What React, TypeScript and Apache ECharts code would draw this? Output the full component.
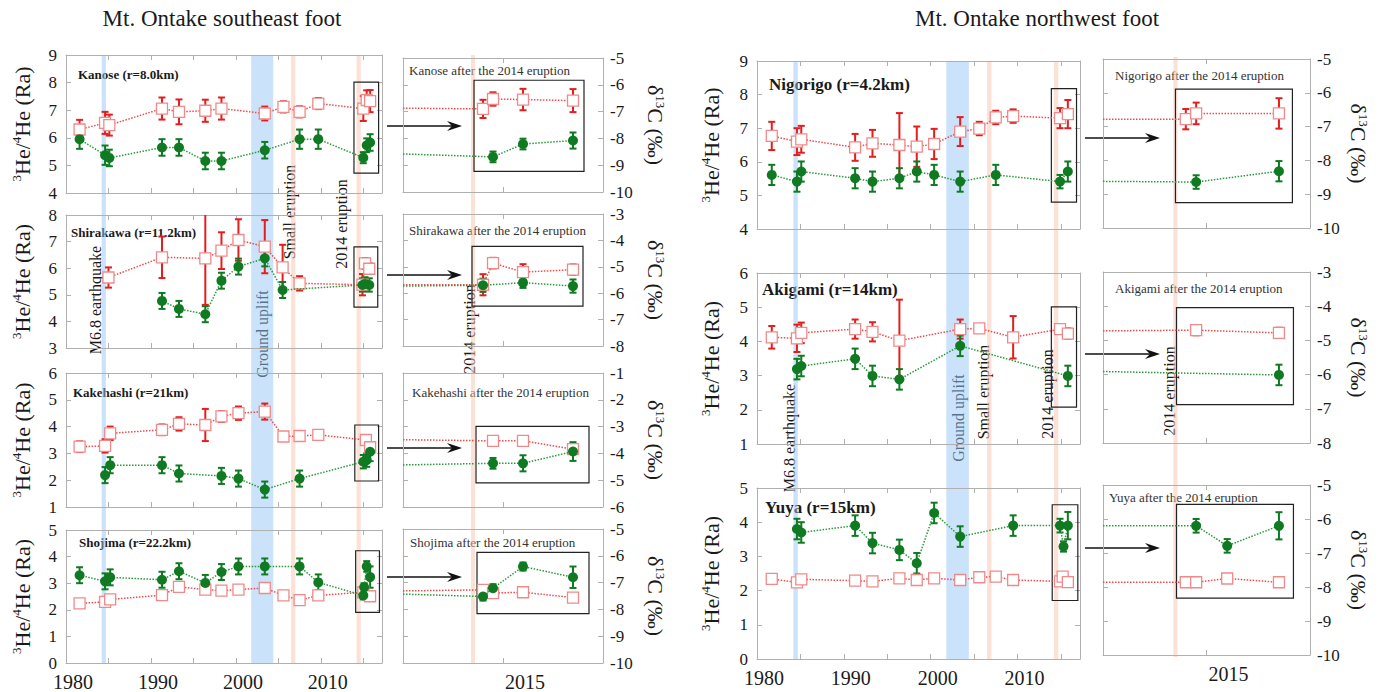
import React, { useEffect, useRef } from "react";
import * as echarts from "echarts";

const FONT = "Liberation Serif";
const FRAME = "#b0b0b0";
const TXT = "#1a1a1a";
const RED_BAR = "#e41e1e";
const RED_SQ = "#f08a8a";
const RED_LINE = "#f04a4a";
const GREEN = "#0f7a22";
const GREEN_LINE = "#2a9a3a";
const BLUE_BAND = "rgba(150,200,245,0.5)";
const RED_BAND = "rgba(250,195,175,0.5)";

// ---------------- events ----------------
const eventStart = [1984.2, 2001.8, 2006.5, 2014.2];
const eventEnd = [1984.7, 2004.4, 2007.0, 2014.7];
const eventKind = [0, 0, 1, 1];
const eventLabels = ["M6.8 earthquake", "Ground uplift", "Small eruption", "2014 eruption"];
const insetEruption = [2014.68, 2014.72];

// ---------------- Kanose ----------------
const kanoseHeYears = [1981.6, 1984.6, 1985.1, 1991.3, 1993.3, 1996.4, 1998.3, 2003.4, 2005.6, 2007.5, 2009.7, 2015.0, 2015.4, 2015.8];
const kanoseHe = [6.3, 6.54, 6.46, 7.06, 6.94, 6.98, 7.06, 6.88, 7.12, 6.94, 7.24, 7.06, 7.37, 7.33];
const kanoseHeErr = [0.35, 0.4, 0.38, 0.4, 0.45, 0.4, 0.4, 0.25, 0.2, 0.2, 0.2, 0.45, 0.35, 0.4];
const kanoseCYears = [1981.6, 1984.6, 1985.1, 1991.3, 1993.3, 1996.4, 1998.3, 2003.4, 2007.5, 2009.7, 2015.0, 2015.4, 2015.8];
const kanoseC = [-8.05, -8.63, -8.73, -8.35, -8.35, -8.84, -8.84, -8.45, -8.05, -8.05, -8.72, -8.27, -8.17];
const kanoseCErr = [0.35, 0.35, 0.3, 0.3, 0.3, 0.3, 0.3, 0.3, 0.35, 0.35, 0.2, 0.25, 0.3];
const kanosePostHeYears = [2014.8, 2014.9, 2015.2, 2015.7];
const kanosePostHe = [7.1, 7.47, 7.45, 7.41];
const kanosePostHeErr = [0.34, 0.25, 0.4, 0.43];
const kanosePostHeStart = 7.13;
const kanosePostCYears = [2014.9, 2015.2, 2015.7];
const kanosePostC = [-8.69, -8.21, -8.08];
const kanosePostCErr = [0.2, 0.2, 0.3];
const kanosePostCStart = -8.58;
const kanoseBox = [2013.9, 2016.8, 4.72, 8.02];
const kanosePostBox = [2014.71, 2015.81, -9.23, -5.83];

// ---------------- Shirakawa ----------------
const shirakawaHeYears = [1985.0, 1991.3, 1996.4, 1998.3, 2000.3, 2003.4, 2005.5, 2007.5, 2014.9, 2015.2, 2015.7];
const shirakawaHe = [5.65, 6.41, 6.37, 6.66, 7.06, 6.81, 6.03, 5.43, 5.38, 6.18, 5.98];
const shirakawaHeErr = [0.38, 0.78, 1.75, 0.69, 0.78, 1.0, 0.85, 0.27, 0.4, 0.2, 0.2];
const shirakawaCYears = [1991.3, 1993.3, 1996.4, 1998.3, 2000.3, 2003.4, 2005.5, 2014.9, 2015.2, 2015.7];
const shirakawaC = [-6.23, -6.53, -6.73, -5.47, -4.94, -4.63, -5.82, -5.63, -5.59, -5.63];
const shirakawaCErr = [0.3, 0.3, 0.3, 0.3, 0.3, 0.3, 0.3, 0.25, 0.25, 0.25];
const shirakawaPostHeYears = [2014.8, 2014.9, 2015.2, 2015.7];
const shirakawaPostHe = [5.32, 6.14, 5.8, 5.89];
const shirakawaPostHeErr = [0.4, 0.2, 0.3, 0.2];
const shirakawaPostHeStart = 5.32;
const shirakawaPostCYears = [2014.8, 2015.2, 2015.7];
const shirakawaPostC = [-5.7, -5.6, -5.73];
const shirakawaPostCErr = [0.25, 0.2, 0.25];
const shirakawaPostCStart = -5.73;
const shirakawaBox = [2013.9, 2016.7, 4.54, 6.8];
const shirakawaPostBox = [2014.69, 2015.8, -6.49, -4.23];

// ---------------- Kakehashi ----------------
const kakehashiHeYears = [1981.6, 1984.6, 1985.2, 1991.3, 1993.3, 1996.4, 1998.3, 2000.3, 2003.4, 2005.6, 2007.5, 2009.7, 2015.3, 2015.8];
const kakehashiHe = [3.25, 3.28, 3.75, 3.88, 4.1, 4.06, 4.38, 4.5, 4.56, 3.63, 3.65, 3.69, 3.5, 3.23];
const kakehashiHeErr = [0.2, 0.25, 0.25, 0.2, 0.25, 0.6, 0.2, 0.25, 0.3, 0, 0, 0, 0, 0.05];
const kakehashiCYears = [1984.6, 1985.2, 1991.3, 1993.3, 1998.3, 2000.3, 2003.4, 2007.5, 2015.0, 2015.4, 2015.8];
const kakehashiC = [-4.81, -4.44, -4.44, -4.75, -4.84, -4.94, -5.35, -4.94, -4.31, -4.25, -3.94];
const kakehashiCErr = [0.3, 0.3, 0.3, 0.3, 0.3, 0.3, 0.3, 0.3, 0.25, 0.25, 0.35];
const kakehashiPostHeYears = [2014.9, 2015.2, 2015.7];
const kakehashiPostHe = [3.47, 3.47, 3.16];
const kakehashiPostHeErr = [0, 0, 0.1];
const kakehashiPostHeStart = 3.51;
const kakehashiPostCYears = [2014.9, 2015.2, 2015.7];
const kakehashiPostC = [-4.37, -4.37, -3.93];
const kakehashiPostCErr = [0.2, 0.3, 0.35];
const kakehashiPostCStart = -4.43;
const kakehashiBox = [2014.0, 2016.8, 1.97, 4.06];
const kakehashiPostBox = [2014.73, 2015.86, -5.1, -2.99];

// ---------------- Shojima ----------------
const shojimaHeYears = [1981.6, 1984.6, 1985.2, 1991.3, 1993.3, 1996.4, 1998.3, 2000.3, 2003.4, 2005.6, 2007.5, 2009.7, 2015.0, 2015.8];
const shojimaHe = [2.24, 2.3, 2.39, 2.55, 2.86, 2.76, 2.72, 2.76, 2.82, 2.54, 2.36, 2.54, 2.66, 2.51];
const shojimaHeErr = [0.08, 0.08, 0.08, 0.08, 0.15, 0.08, 0.1, 0.08, 0.1, 0, 0, 0, 0, 0.08];
const shojimaCYears = [1981.6, 1984.6, 1985.2, 1991.3, 1993.3, 1996.4, 1998.3, 2000.3, 2003.4, 2007.5, 2009.7, 2015.0, 2015.1, 2015.4, 2015.8];
const shojimaC = [-6.7, -6.93, -6.78, -6.87, -6.55, -6.99, -6.58, -6.37, -6.37, -6.37, -6.97, -7.46, -7.15, -6.37, -6.77];
const shojimaCErr = [0.3, 0.3, 0.3, 0.3, 0.3, 0.3, 0.3, 0.3, 0.3, 0.3, 0.3, 0.15, 0.15, 0.2, 0.4];
const shojimaPostHeYears = [2014.8, 2014.9, 2015.2, 2015.7];
const shojimaPostHe = [2.73, 2.61, 2.64, 2.44];
const shojimaPostHeErr = [0, 0, 0.1, 0];
const shojimaPostHeStart = 2.69;
const shojimaPostCYears = [2014.8, 2014.9, 2015.2, 2015.7];
const shojimaPostC = [-7.52, -7.21, -6.4, -6.8];
const shojimaPostCErr = [0.15, 0.15, 0.15, 0.4];
const shojimaPostCStart = -7.43;
const shojimaBox = [2014.1, 2016.9, 1.9, 4.22];
const shojimaPostBox = [2014.74, 2015.86, -8.16, -5.87];

// ---------------- Nigorigo ----------------
const nigorigoHeYears = [1981.7, 1984.6, 1985.1, 1991.3, 1993.3, 1996.4, 1998.4, 2000.4, 2003.4, 2005.6, 2007.5, 2009.5, 2014.9, 2015.8];
const nigorigoHe = [6.77, 6.6, 6.67, 6.43, 6.55, 6.5, 6.45, 6.53, 6.9, 6.99, 7.32, 7.36, 7.3, 7.42];
const nigorigoHeErr = [0.42, 0.4, 0.4, 0.4, 0.4, 0.95, 0.6, 0.45, 0.43, 0.2, 0.2, 0.2, 0.3, 0.42];
const nigorigoCYears = [1981.7, 1984.6, 1985.1, 1991.3, 1993.3, 1996.4, 1998.4, 2000.4, 2003.4, 2007.5, 2014.9, 2015.8];
const nigorigoC = [-8.39, -8.59, -8.29, -8.49, -8.59, -8.49, -8.29, -8.39, -8.59, -8.39, -8.59, -8.29];
const nigorigoCErr = [0.3, 0.3, 0.3, 0.3, 0.3, 0.3, 0.3, 0.3, 0.3, 0.3, 0.2, 0.3];
const nigorigoPostHeYears = [2014.8, 2014.9, 2015.7];
const nigorigoPostHe = [7.22, 7.39, 7.39];
const nigorigoPostHeErr = [0.3, 0.32, 0.45];
const nigorigoPostHeStart = 7.22;
const nigorigoPostCYears = [2014.9, 2015.7];
const nigorigoPostC = [-8.64, -8.32];
const nigorigoPostCErr = [0.2, 0.3];
const nigorigoPostCStart = -8.62;
const nigorigoBox = [2013.9, 2016.8, 4.8, 8.18];
const nigorigoPostBox = [2014.7, 2015.83, -9.25, -5.89];

// ---------------- Akigami ----------------
const akigamiHeYears = [1981.7, 1984.6, 1985.1, 1991.3, 1993.3, 1996.4, 2003.4, 2005.6, 2009.5, 2014.9, 2015.8];
const akigamiHe = [4.12, 4.09, 4.25, 4.36, 4.28, 4.02, 4.36, 4.38, 4.12, 4.36, 4.23];
const akigamiHeErr = [0.33, 0.4, 0.3, 0.28, 0.28, 1.2, 0.28, 0.1, 0.62, 0.1, 0.15];
const akigamiCYears = [1984.6, 1985.1, 1991.3, 1993.3, 1996.4, 2003.4, 2015.8];
const akigamiC = [-5.81, -5.72, -5.51, -6.01, -6.11, -5.13, -6.01];
const akigamiCErr = [0.3, 0.3, 0.3, 0.3, 0.3, 0.3, 0.3];
const akigamiPostHeYears = [2014.9, 2015.7];
const akigamiPostHe = [4.3, 4.22];
const akigamiPostHeErr = [0.15, 0.15];
const akigamiPostHeStart = 4.28;
const akigamiPostCYears = [2015.7];
const akigamiPostC = [-6.01];
const akigamiPostCErr = [0.3];
const akigamiPostCStart = -5.91;
const akigamiBox = [2013.9, 2016.8, 2.08, 5.01];
const akigamiPostBox = [2014.71, 2015.84, -6.88, -4.04];

// ---------------- Yuya ----------------
const yuyaHeYears = [1981.7, 1984.6, 1985.1, 1991.3, 1993.3, 1996.4, 1998.4, 2000.4, 2003.4, 2005.6, 2007.5, 2009.5, 2014.9, 2015.2, 2015.8];
const yuyaHe = [2.34, 2.24, 2.33, 2.29, 2.27, 2.36, 2.31, 2.36, 2.31, 2.39, 2.41, 2.31, 2.27, 2.41, 2.25];
const yuyaHeErr = [0.1, 0.1, 0.1, 0.1, 0.1, 0.1, 0.1, 0.1, 0.1, 0, 0, 0, 0, 0.1, 0];
const yuyaCYears = [1984.6, 1985.1, 1991.3, 1993.3, 1996.4, 1998.4, 2000.4, 2003.4, 2009.5, 2014.9, 2015.3, 2015.8];
const yuyaC = [-6.2, -6.3, -6.1, -6.61, -6.81, -7.2, -5.73, -6.42, -6.1, -6.1, -6.71, -6.1];
const yuyaCErr = [0.3, 0.3, 0.3, 0.3, 0.3, 0.3, 0.3, 0.3, 0.3, 0.2, 0.15, 0.4];
const yuyaPostHeYears = [2014.8, 2014.9, 2015.2, 2015.7];
const yuyaPostHe = [2.14, 2.14, 2.25, 2.14];
const yuyaPostHeErr = [0, 0, 0.1, 0];
const yuyaPostHeStart = 2.14;
const yuyaPostCYears = [2014.9, 2015.2, 2015.7];
const yuyaPostC = [-6.2, -6.79, -6.2];
const yuyaPostCErr = [0.2, 0.2, 0.4];
const yuyaPostCStart = -6.2;
const yuyaBox = [2014.0, 2016.95, 1.71, 4.51];
const yuyaPostBox = [2014.71, 2015.84, -8.33, -5.57];

const stations = [
  { title: "Kanose (r=8.0km)", post: "Kanose after the 2014 eruption", heMin: 4, cMin: -10, heYears: kanoseHeYears, he: kanoseHe, heErr: kanoseHeErr, cYears: kanoseCYears, c: kanoseC, cErr: kanoseCErr, pHeYears: kanosePostHeYears, pHe: kanosePostHe, pHeErr: kanosePostHeErr, pHeStart: kanosePostHeStart, pCYears: kanosePostCYears, pC: kanosePostC, pCErr: kanosePostCErr, pCStart: kanosePostCStart, box: kanoseBox, pBox: kanosePostBox },
  { title: "Shirakawa (r=11.2km)", post: "Shirakawa after the 2014 eruption", heMin: 3, cMin: -8, heYears: shirakawaHeYears, he: shirakawaHe, heErr: shirakawaHeErr, cYears: shirakawaCYears, c: shirakawaC, cErr: shirakawaCErr, pHeYears: shirakawaPostHeYears, pHe: shirakawaPostHe, pHeErr: shirakawaPostHeErr, pHeStart: shirakawaPostHeStart, pCYears: shirakawaPostCYears, pC: shirakawaPostC, pCErr: shirakawaPostCErr, pCStart: shirakawaPostCStart, box: shirakawaBox, pBox: shirakawaPostBox },
  { title: "Kakehashi (r=21km)", post: "Kakehashi after the 2014 eruption", heMin: 1, cMin: -6, heYears: kakehashiHeYears, he: kakehashiHe, heErr: kakehashiHeErr, cYears: kakehashiCYears, c: kakehashiC, cErr: kakehashiCErr, pHeYears: kakehashiPostHeYears, pHe: kakehashiPostHe, pHeErr: kakehashiPostHeErr, pHeStart: kakehashiPostHeStart, pCYears: kakehashiPostCYears, pC: kakehashiPostC, pCErr: kakehashiPostCErr, pCStart: kakehashiPostCStart, box: kakehashiBox, pBox: kakehashiPostBox },
  { title: "Shojima (r=22.2km)", post: "Shojima after the 2014 eruption", heMin: 0, cMin: -10, heYears: shojimaHeYears, he: shojimaHe, heErr: shojimaHeErr, cYears: shojimaCYears, c: shojimaC, cErr: shojimaCErr, pHeYears: shojimaPostHeYears, pHe: shojimaPostHe, pHeErr: shojimaPostHeErr, pHeStart: shojimaPostHeStart, pCYears: shojimaPostCYears, pC: shojimaPostC, pCErr: shojimaPostCErr, pCStart: shojimaPostCStart, box: shojimaBox, pBox: shojimaPostBox },
  { title: "Nigorigo (r=4.2km)", post: "Nigorigo after the 2014 eruption", heMin: 4, cMin: -10, heYears: nigorigoHeYears, he: nigorigoHe, heErr: nigorigoHeErr, cYears: nigorigoCYears, c: nigorigoC, cErr: nigorigoCErr, pHeYears: nigorigoPostHeYears, pHe: nigorigoPostHe, pHeErr: nigorigoPostHeErr, pHeStart: nigorigoPostHeStart, pCYears: nigorigoPostCYears, pC: nigorigoPostC, pCErr: nigorigoPostCErr, pCStart: nigorigoPostCStart, box: nigorigoBox, pBox: nigorigoPostBox },
  { title: "Akigami (r=14km)", post: "Akigami after the 2014 eruption", heMin: 1, cMin: -8, heYears: akigamiHeYears, he: akigamiHe, heErr: akigamiHeErr, cYears: akigamiCYears, c: akigamiC, cErr: akigamiCErr, pHeYears: akigamiPostHeYears, pHe: akigamiPostHe, pHeErr: akigamiPostHeErr, pHeStart: akigamiPostHeStart, pCYears: akigamiPostCYears, pC: akigamiPostC, pCErr: akigamiPostCErr, pCStart: akigamiPostCStart, box: akigamiBox, pBox: akigamiPostBox },
  { title: "Yuya (r=15km)", post: "Yuya after the 2014 eruption", heMin: 0, cMin: -10, heYears: yuyaHeYears, he: yuyaHe, heErr: yuyaHeErr, cYears: yuyaCYears, c: yuyaC, cErr: yuyaCErr, pHeYears: yuyaPostHeYears, pHe: yuyaPostHe, pHeErr: yuyaPostHeErr, pHeStart: yuyaPostHeStart, pCYears: yuyaPostCYears, pC: yuyaPostC, pCErr: yuyaPostCErr, pCStart: yuyaPostCStart, box: yuyaBox, pBox: yuyaPostBox },
];

// ---------------- layout (pixels) ----------------
const layouts = [
  { main: [66, 55, 316, 138], inset: [403, 58, 200, 134], years: false, tXY: [78, 74], tSize: 13, pXY: [409, 70], heGap: 32, cGap: 40, arrowY: 126, arrowX: [387, 462] },
  { main: [66, 215, 316, 133], inset: [403, 214, 200, 132], years: false, tXY: [71, 232], tSize: 13, pXY: [409, 230], heGap: 32, cGap: 40, arrowY: 275, arrowX: [387, 462] },
  { main: [66, 373, 316, 134], inset: [403, 373, 200, 134], years: false, tXY: [73, 392], tSize: 13, pXY: [412, 392], heGap: 32, cGap: 40, arrowY: 448, arrowX: [387, 462] },
  { main: [66, 530, 316, 134], inset: [403, 529, 200, 134], years: true, tXY: [79, 542], tSize: 13, pXY: [410, 542], heGap: 32, cGap: 40, arrowY: 577, arrowX: [387, 462] },
  { main: [757, 61, 323, 168], inset: [1103, 59, 207, 169], years: false, tXY: [769, 84], tSize: 17, pXY: [1115, 75], heGap: 34, cGap: 36, arrowY: 138, arrowX: [1085, 1160] },
  { main: [757, 273, 323, 171], inset: [1103, 272, 207, 171], years: false, tXY: [762, 289], tSize: 17, pXY: [1115, 288], heGap: 34, cGap: 36, arrowY: 354, arrowX: [1085, 1160] },
  { main: [757, 488, 323, 171], inset: [1103, 485, 207, 170], years: true, tXY: [765, 507], tSize: 17, pXY: [1109, 497], heGap: 34, cGap: 36, arrowY: 548, arrowX: [1085, 1160] },
];

const columns = [
  { band: [66, 55, 316, 609], eruptionGrid: [403, 55, 200, 609], title: "Mt. Ontake southeast foot", titleX: 222, labels: [[95, 300], [262, 334], [289, 212], [341, 224]], insetLabel: [469, 329] },
  { band: [757, 61, 323, 598], eruptionGrid: [1103, 57, 207, 600], title: "Mt. Ontake northwest foot", titleX: 1037, labels: [[789, 438], [958, 418], [983, 392], [1047, 394]], insetLabel: [1169, 391] },
];

const axLine = { show: true, onZero: false, lineStyle: { color: FRAME, width: 1 } };
const axTick = { show: true, inside: true, length: 5, lineStyle: { color: FRAME, width: 1 } };
const labelStyle = { fontFamily: FONT, color: TXT };

function errRenderer(color: string) {
  return (params: any, api: any) => {
    const x = api.value(0);
    const p1 = api.coord([x, api.value(1)]);
    const p2 = api.coord([x, api.value(2)]);
    const w = 3.5;
    const st = { stroke: color, lineWidth: 2 };
    return {
      type: "group",
      children: [
        { type: "line", shape: { x1: p1[0], y1: p1[1], x2: p2[0], y2: p2[1] }, style: st },
        { type: "line", shape: { x1: p1[0] - w, y1: p1[1], x2: p1[0] + w, y2: p1[1] }, style: st },
        { type: "line", shape: { x1: p2[0] - w, y1: p2[1], x2: p2[0] + w, y2: p2[1] }, style: st },
      ],
    };
  };
}

function errData(years: number[], vals: number[], errs: number[]) {
  const out: number[][] = [];
  years.forEach((y, i) => {
    if (errs[i] > 0) out.push([y, vals[i] - errs[i], vals[i] + errs[i]]);
  });
  return out;
}

function buildOption() {
  const grid: any[] = [];
  const xAxis: any[] = [];
  const yAxis: any[] = [];
  const series: any[] = [];
  const graphic: any[] = [];

  const addGrid = (r: number[]) => {
    grid.push({ left: r[0], top: r[1], width: r[2], height: r[3], show: false, containLabel: false });
    return grid.length - 1;
  };

  columns.forEach((col) => {
    const g = addGrid(col.band);
    const xi = xAxis.length;
    xAxis.push({ type: "value", gridIndex: g, min: 1980, max: 2017.2, show: false });
    const yi = yAxis.length;
    yAxis.push({ type: "value", gridIndex: g, min: 0, max: 1, show: false });
    series.push({
      type: "custom",
      silent: true,
      xAxisIndex: xi,
      yAxisIndex: yi,
      z: 0,
      renderItem: (params: any, api: any) => {
        const p0 = api.coord([api.value(0), 1]);
        const p1 = api.coord([api.value(1), 0]);
        return { type: "rect", shape: { x: p0[0], y: p0[1], width: p1[0] - p0[0], height: p1[1] - p0[1] }, style: { fill: api.value(2) === 0 ? BLUE_BAND : RED_BAND } };
      },
      encode: { x: [0, 1] },
      data: eventStart.map((s, i) => [s, eventEnd[i], eventKind[i]]),
    });
    const g2 = addGrid(col.eruptionGrid);
    const xi2 = xAxis.length;
    xAxis.push({ type: "value", gridIndex: g2, min: 2014, max: 2016, show: false });
    const yi2 = yAxis.length;
    yAxis.push({ type: "value", gridIndex: g2, min: 0, max: 1, show: false });
    series.push({
      type: "custom",
      silent: true,
      xAxisIndex: xi2,
      yAxisIndex: yi2,
      z: 0,
      renderItem: (params: any, api: any) => {
        const p0 = api.coord([api.value(0), 1]);
        const p1 = api.coord([api.value(1), 0]);
        return { type: "rect", shape: { x: p0[0], y: p0[1], width: p1[0] - p0[0], height: p1[1] - p0[1] }, style: { fill: RED_BAND } };
      },
      encode: { x: [0, 1] },
      data: [[insetEruption[0], insetEruption[1]]],
    });

    graphic.push({
      type: "text",
      x: col.titleX,
      y: 18,
      style: { text: col.title, font: `23px '${FONT}', serif`, fill: TXT, textAlign: "center", textVerticalAlign: "middle", align: "center", verticalAlign: "middle" },
    });
    col.labels.forEach((p, i) => {
      graphic.push({
        type: "text",
        x: p[0],
        y: p[1],
        rotation: Math.PI / 2,
        style: { text: eventLabels[i], font: `16px '${FONT}', serif`, fill: TXT, textAlign: "center", textVerticalAlign: "middle", align: "center", verticalAlign: "middle" },
      });
    });
    graphic.push({
      type: "text",
      x: col.insetLabel[0],
      y: col.insetLabel[1],
      rotation: Math.PI / 2,
      style: { text: eventLabels[3], font: `16px '${FONT}', serif`, fill: TXT, textAlign: "center", textVerticalAlign: "middle", align: "center", verticalAlign: "middle" },
    });
  });

  const heName = "{s|3}{n|He/}{s|4}{n|He (Ra)}";
  const cName = "{n|δ}{s|13}{n|C (‰)}";
  const nameStyle = {
    fontFamily: FONT,
    fontSize: 22,
    color: TXT,
    rich: {
      n: { fontFamily: FONT, fontSize: 22, fontWeight: "normal", color: TXT, lineHeight: 24 },
      s: { fontFamily: FONT, fontSize: 13, fontWeight: "normal", color: TXT, verticalAlign: "top", lineHeight: 14 },
    },
  };

  stations.forEach((st, si) => {
    const L = layouts[si];
    const gm = addGrid(L.main);
    const xm = xAxis.length;
    xAxis.push({
      type: "value", gridIndex: gm, position: "bottom", min: 1980, max: 2017.2, interval: 5,
      axisLine: axLine, axisTick: axTick, splitLine: { show: false },
      axisLabel: { show: L.years, ...labelStyle, fontSize: 20, margin: 9, padding: [0, 0, 0, 14], formatter: (v: number) => (Math.abs(v % 10) < 1e-6 ? String(v) : ""), showMaxLabel: false },
    });
    xAxis.push({
      type: "value", gridIndex: gm, position: "top", min: 1980, max: 2017.2, interval: 5,
      axisLine: axLine, axisTick: axTick, splitLine: { show: false }, axisLabel: { show: false },
    });
    const ym = yAxis.length;
    yAxis.push({
      type: "value", gridIndex: gm, position: "left", min: st.heMin, max: st.heMin + 5, interval: 1,
      axisLine: axLine, axisTick: axTick, splitLine: { show: false },
      axisLabel: { ...labelStyle, fontSize: 17, margin: 9 },
      name: heName, nameLocation: "middle", nameGap: L.heGap, nameRotate: 90, nameMoveOverlap: false, nameTextStyle: nameStyle,
    });
    yAxis.push({
      type: "value", gridIndex: gm, position: "right", min: st.cMin, max: st.cMin + 5, interval: 1,
      axisLine: axLine, axisTick: axTick, splitLine: { show: false }, axisLabel: { show: false },
    });

    series.push({
      type: "custom", silent: true, clip: true, xAxisIndex: xm, yAxisIndex: ym, z: 3,
      renderItem: errRenderer(RED_BAR), encode: { x: 0, y: [1, 2] },
      data: errData(st.heYears, st.he, st.heErr),
    });
    series.push({
      type: "custom", silent: true, clip: true, xAxisIndex: xm, yAxisIndex: ym + 1, z: 3,
      renderItem: errRenderer(GREEN), encode: { x: 0, y: [1, 2] },
      data: errData(st.cYears, st.c, st.cErr),
    });
    series.push({
      type: "line", silent: true, xAxisIndex: xm, yAxisIndex: ym, z: 4,
      symbol: "rect", symbolSize: 11, showAllSymbol: true,
      itemStyle: { color: "#fff", borderColor: RED_SQ, borderWidth: 1.3 },
      lineStyle: { color: RED_LINE, width: 1.5, type: "dotted" },
      data: st.heYears.map((y, i) => [y, st.he[i]]),
      markArea: {
        silent: true,
        itemStyle: { color: "rgba(0,0,0,0)", borderColor: "#222", borderWidth: 1.2 },
        data: [[{ coord: [st.box[0], st.box[3]] }, { coord: [st.box[1], st.box[2]] }]],
      },
    });
    series.push({
      type: "line", silent: true, xAxisIndex: xm, yAxisIndex: ym + 1, z: 5,
      symbol: "circle", symbolSize: 10, showAllSymbol: true,
      itemStyle: { color: GREEN },
      lineStyle: { color: GREEN_LINE, width: 1.5, type: "dotted" },
      data: st.cYears.map((y, i) => [y, st.c[i]]),
    });

    const gi = addGrid(L.inset);
    const xi = xAxis.length;
    xAxis.push({
      type: "value", gridIndex: gi, position: "bottom", min: 2014, max: 2016, interval: 1,
      axisLine: axLine, axisTick: axTick, splitLine: { show: false },
      axisLabel: { show: L.years, ...labelStyle, fontSize: 20, margin: 9, padding: [0, 0, 0, 44], formatter: (v: number) => (Math.abs(v - 2015) < 1e-6 ? "2015" : "") },
    });
    xAxis.push({
      type: "value", gridIndex: gi, position: "top", min: 2014, max: 2016, interval: 1,
      axisLine: axLine, axisTick: axTick, splitLine: { show: false }, axisLabel: { show: false },
    });
    const yi = yAxis.length;
    yAxis.push({
      type: "value", gridIndex: gi, position: "left", min: st.heMin, max: st.heMin + 5, interval: 1,
      axisLine: axLine, axisTick: axTick, splitLine: { show: false }, axisLabel: { show: false },
    });
    yAxis.push({
      type: "value", gridIndex: gi, position: "right", min: st.cMin, max: st.cMin + 5, interval: 1,
      axisLine: axLine, axisTick: axTick, splitLine: { show: false },
      axisLabel: { ...labelStyle, fontSize: 17, margin: 7 },
      name: cName, nameLocation: "middle", nameGap: L.cGap, nameRotate: -90, nameMoveOverlap: false, nameTextStyle: nameStyle,
    });

    series.push({
      type: "custom", silent: true, clip: true, xAxisIndex: xi, yAxisIndex: yi, z: 3,
      renderItem: errRenderer(RED_BAR), encode: { x: 0, y: [1, 2] },
      data: errData(st.pHeYears, st.pHe, st.pHeErr),
    });
    series.push({
      type: "custom", silent: true, clip: true, xAxisIndex: xi, yAxisIndex: yi + 1, z: 3,
      renderItem: errRenderer(GREEN), encode: { x: 0, y: [1, 2] },
      data: errData(st.pCYears, st.pC, st.pCErr),
    });
    series.push({
      type: "line", silent: true, xAxisIndex: xi, yAxisIndex: yi, z: 4,
      symbol: "rect", symbolSize: 11, showAllSymbol: true,
      itemStyle: { color: "#fff", borderColor: RED_SQ, borderWidth: 1.3 },
      lineStyle: { color: RED_LINE, width: 1.5, type: "dotted" },
      data: [{ value: [2014, st.pHeStart], symbol: "none" }, ...st.pHeYears.map((y, i) => [y, st.pHe[i]])],
    });
    series.push({
      type: "line", silent: true, xAxisIndex: xi, yAxisIndex: yi + 1, z: 5,
      symbol: "circle", symbolSize: 10, showAllSymbol: true,
      itemStyle: { color: GREEN },
      lineStyle: { color: GREEN_LINE, width: 1.5, type: "dotted" },
      data: [{ value: [2014, st.pCStart], symbol: "none" }, ...st.pCYears.map((y, i) => [y, st.pC[i]])],
      markArea: {
        silent: true,
        itemStyle: { color: "rgba(0,0,0,0)", borderColor: "#222", borderWidth: 1.2 },
        data: [[{ coord: [st.pBox[0], st.pBox[3]] }, { coord: [st.pBox[1], st.pBox[2]] }]],
      },
    });

    graphic.push({
      type: "text", x: L.tXY[0], y: L.tXY[1],
      style: { text: st.title, font: `bold ${L.tSize}px '${FONT}', serif`, fill: TXT, textVerticalAlign: "middle", verticalAlign: "middle" },
    });
    graphic.push({
      type: "text", x: L.pXY[0], y: L.pXY[1],
      style: { text: st.post, font: `13px '${FONT}', serif`, fill: "#333", textVerticalAlign: "middle", verticalAlign: "middle" },
    });
    const ay = L.arrowY;
    const [ax0, ax1] = L.arrowX;
    graphic.push({ type: "line", shape: { x1: ax0, y1: ay, x2: ax1 - 8, y2: ay }, style: { stroke: "#111", lineWidth: 1.5 } });
    graphic.push({ type: "polygon", shape: { points: [[ax1, ay], [ax1 - 15, ay - 5], [ax1 - 10, ay], [ax1 - 15, ay + 5]] }, style: { fill: "#111" } });
  });

  return { animation: false, backgroundColor: "#fff", textStyle: { fontFamily: FONT }, grid, xAxis, yAxis, series, graphic };
}

export default function App() {
  const ref = useRef<HTMLDivElement>(null);
  useEffect(() => {
    const chart = echarts.init(ref.current as HTMLDivElement, null, { renderer: "svg" });
    chart.setOption(buildOption() as any);
    return () => chart.dispose();
  }, []);
  return <div ref={ref} style={{ position: "fixed", left: 0, top: 0, width: 1384, height: 692, background: "#fff" }} />;
}
